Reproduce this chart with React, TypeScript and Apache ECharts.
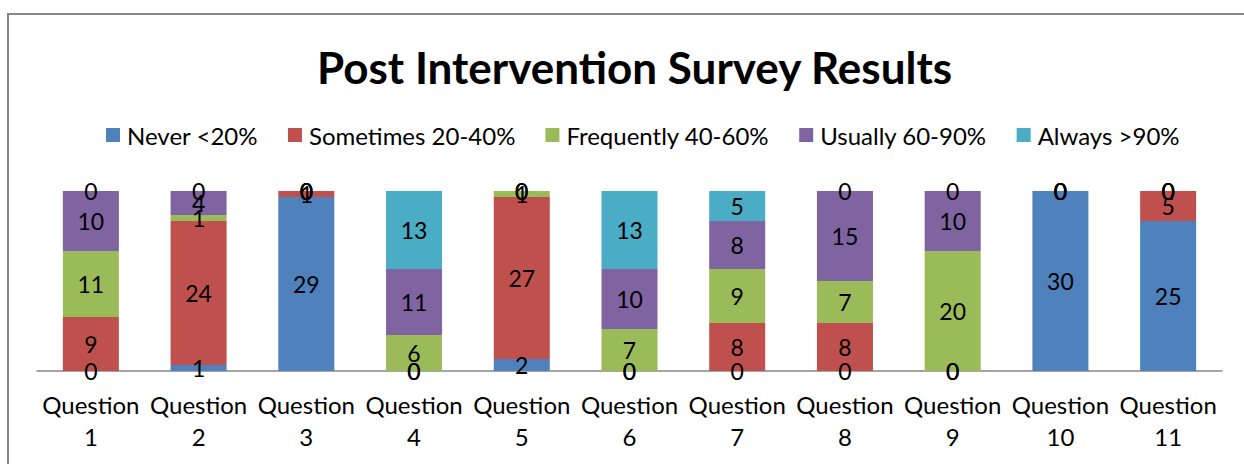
import React, { useEffect, useRef } from "react";
import * as echarts from "echarts";

const categories = ["Question\n1", "Question\n2", "Question\n3", "Question\n4", "Question\n5", "Question\n6", "Question\n7", "Question\n8", "Question\n9", "Question\n10", "Question\n11"];
const never = [0, 1, 29, 0, 2, 0, 0, 0, 0, 30, 25];
const sometimes = [9, 24, 1, 0, 27, 0, 8, 8, 0, 0, 5];
const frequently = [11, 1, 0, 6, 1, 7, 9, 7, 20, 0, 0];
const usually = [10, 4, 0, 11, 0, 10, 8, 15, 10, 0, 0];
const always = [0, 0, 0, 13, 0, 13, 5, 0, 0, 0, 0];
const seriesNames = ["Never <20%", "Sometimes 20-40%", "Frequently 40-60%", "Usually 60-90%", "Always >90%"];
const colors = ["#4F81BD", "#C0504D", "#9BBB59", "#8064A2", "#4BACC6"];

export default function App() {
  const ref = useRef<HTMLDivElement>(null);
  useEffect(() => {
    const chart = echarts.init(ref.current!, null, { renderer: "svg" });
    const font = "Lato, 'Open Sans', sans-serif";
    const data = [never, sometimes, frequently, usually, always];
    chart.setOption({
      animation: false,
      backgroundColor: "#ffffff",
      color: colors,
      textStyle: { fontFamily: font },
      graphic: [
        {
          type: "rect",
          shape: { x: 8, y: 14, width: 1400, height: 600 },
          style: { fill: "none", stroke: "#878787", lineWidth: 2 },
          silent: true,
        },
      ],
      title: {
        text: "Post Intervention Survey Results",
        left: 312,
        top: 40,
        textStyle: { fontFamily: font, fontSize: 44, fontWeight: "bold", color: "#000" },
      },
      legend: {
        top: 118,
        left: 101,
        itemWidth: 14,
        itemHeight: 14,
        itemGap: 30,
        icon: "rect",
        textStyle: { fontFamily: font, fontSize: 24, color: "#000", padding: [0, 0, 0, 2] },
        data: seriesNames,
      },
      grid: { left: 37, right: 22, top: 191, bottom: 93, containLabel: false },
      xAxis: {
        type: "category",
        data: categories,
        axisLine: { lineStyle: { color: "#868686", width: 1.5 } },
        axisTick: { show: false },
        axisLabel: { fontFamily: font, fontSize: 24, color: "#000", lineHeight: 32, margin: 17, interval: 0 },
      },
      yAxis: { type: "value", min: 0, max: 30, show: false, splitLine: { show: false } },
      series: seriesNames.map((name, i) => ({
        name,
        type: "bar",
        stack: "total",
        barWidth: "52%",
        data: data[i],
        itemStyle: { color: colors[i] },
        label: {
          show: true,
          position: "inside",
          fontFamily: font,
          fontSize: 23,
          color: "#000",
        },
      })),
    });
    return () => chart.dispose();
  }, []);
  return <div ref={ref} style={{ position: "absolute", left: 0, top: 0, width: 1244, height: 464 }} />;
}
